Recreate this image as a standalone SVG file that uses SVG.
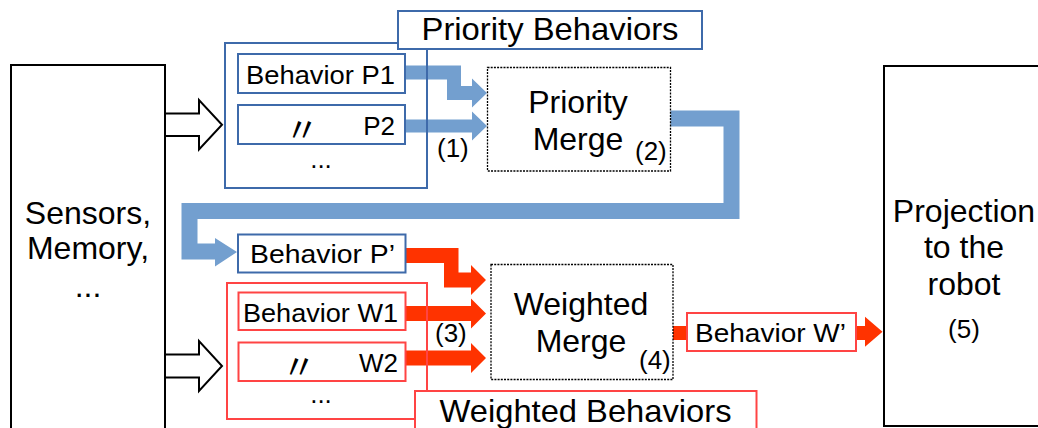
<svg xmlns="http://www.w3.org/2000/svg" width="1038" height="428" viewBox="0 0 1038 428">
<style>
text{font-family:"Liberation Sans",Arial,"Noto Sans CJK JP",sans-serif;fill:#000}
.big{font-size:32px;text-anchor:middle}
.lbl{font-size:26px}
.num{font-size:26px}
.ditto{font-family:"Noto Sans CJK JP","Liberation Sans",sans-serif;font-size:34px;text-anchor:middle}
.blk{fill:#fff;stroke:#000;stroke-width:2}
.bbox{fill:#fff;stroke:#3e6aaa;stroke-width:2}
.bgrp{fill:none;stroke:#3e6aaa;stroke-width:2}
.rbox{fill:#fff;stroke:#ff4444;stroke-width:2}
.rgrp{fill:none;stroke:#ff4444;stroke-width:2}
.merge{fill:#fff;stroke:#000;stroke-width:1.3;stroke-dasharray:2 1.2}
.barr{fill:#739fcf}
.rarr{fill:#ff3300}
.harr{fill:#fff;stroke:#000;stroke-width:2;stroke-linejoin:miter}
</style>
<rect width="1038" height="428" fill="#fff"/>

<g id="connectors">
  <path class="harr" d="M165,113.5 H199 V100 L222,124.75 L199,149.5 V136 H165"/>
  <path class="harr" d="M165,354.5 H199 V341 L222,366 L199,391 V377.5 H165"/>
  <polygon class="barr" points="405,65.5 461,65.5 461,86 472,86 472,78.5 487,93 472,107.5 472,100 447,100 447,79.5 405,79.5"/>
  <polygon class="barr" points="405,119.5 472,119.5 472,111.5 487,126 472,140.5 472,132.5 405,132.5"/>
  <polygon class="barr" points="670,110.5 739.5,110.5 739.5,219 197.5,219 197.5,243.5 215,243.5 215,238 237,252 215,266.5 215,259.5 181.5,259.5 181.5,203 723.5,203 723.5,126.5 670,126.5"/>
  <polygon class="rarr" points="406,248 458.5,248 458.5,272.5 471,272.5 471,265 486,280 471,295 471,287.5 444,287.5 444,263 406,263"/>
  <polygon class="rarr" points="406,306 471,306 471,298.5 486,313.5 471,328.5 471,321 406,321"/>
  <polygon class="rarr" points="406,350.5 471,350.5 471,343 486,358 471,373 471,365.5 406,365.5"/>
  <polygon class="rarr" points="673,326 865,326 865,316.7 882.5,331.7 865,346.7 865,340 673,340"/>
</g>

<g id="sensors">
  <rect class="blk" x="11" y="65" width="154" height="372"/>
  <text class="big" x="88" y="224">Sensors,</text>
  <text class="big" x="88" y="259">Memory,</text>
  <text class="big" x="88" y="297">...</text>
</g>

<g id="priority-behaviors">
  <rect class="bgrp" x="225" y="43" width="202" height="145"/>
  <rect class="bbox" x="398" y="11" width="304" height="38"/>
  <text class="big" x="550" y="40" textLength="257" lengthAdjust="spacingAndGlyphs">Priority Behaviors</text>
  <text class="big" x="321" y="168" style="font-size:26px">...</text>
</g>
<g id="behavior-p1">
  <rect class="bbox" x="238" y="54" width="167" height="39"/>
  <text class="lbl" x="246" y="84" textLength="149" lengthAdjust="spacingAndGlyphs">Behavior P1</text>
</g>
<g id="behavior-p2">
  <rect class="bbox" x="238" y="105" width="167" height="39"/>
  <text class="ditto" x="302" y="141.5">〃</text>
  <text class="lbl" x="395" y="135" text-anchor="end">P2</text>
</g>
<text class="num" x="437" y="157">(1)</text>

<g id="priority-merge">
  <rect class="merge" x="487.5" y="67.5" width="183" height="103.5"/>
  <text class="big" x="578" y="113">Priority</text>
  <text class="big" x="578" y="150">Merge</text>
  <text class="num" x="635" y="160">(2)</text>
</g>

<g id="behavior-pprime">
  <rect class="bbox" x="238" y="234.5" width="167.5" height="38"/>
  <text class="lbl" x="250" y="263" textLength="145" lengthAdjust="spacingAndGlyphs">Behavior P’</text>
</g>

<g id="weighted-behaviors">
  <rect class="rgrp" x="227" y="283" width="200" height="136"/>
  <rect class="rbox" x="415" y="391" width="341.5" height="50"/>
  <text class="big" x="585.5" y="422" textLength="292" lengthAdjust="spacingAndGlyphs">Weighted Behaviors</text>
  <text class="big" x="321" y="403" style="font-size:26px">...</text>
</g>
<g id="behavior-w1">
  <rect class="rbox" x="238.5" y="292.5" width="167" height="37.5"/>
  <text class="lbl" x="243" y="322" textLength="155" lengthAdjust="spacingAndGlyphs">Behavior W1</text>
</g>
<g id="behavior-w2">
  <rect class="rbox" x="238.5" y="342.5" width="167" height="38.5"/>
  <text class="ditto" x="299" y="378.5">〃</text>
  <text class="lbl" x="398" y="372" text-anchor="end">W2</text>
</g>
<text class="num" x="435" y="342">(3)</text>

<g id="weighted-merge">
  <rect class="merge" x="491" y="264.5" width="182" height="115"/>
  <text class="big" x="581" y="315">Weighted</text>
  <text class="big" x="581" y="352">Merge</text>
  <text class="num" x="639" y="369">(4)</text>
</g>

<g id="behavior-wprime">
  <rect class="rbox" x="687" y="313" width="169" height="38"/>
  <text class="lbl" x="695" y="342" textLength="151" lengthAdjust="spacingAndGlyphs">Behavior W’</text>
</g>

<g id="projection">
  <rect class="blk" x="884" y="66" width="170" height="360"/>
  <text class="big" x="964" y="222">Projection</text>
  <text class="big" x="964" y="258">to the</text>
  <text class="big" x="964" y="295">robot</text>
  <text class="num" x="964" y="338" text-anchor="middle">(5)</text>
</g>
</svg>
